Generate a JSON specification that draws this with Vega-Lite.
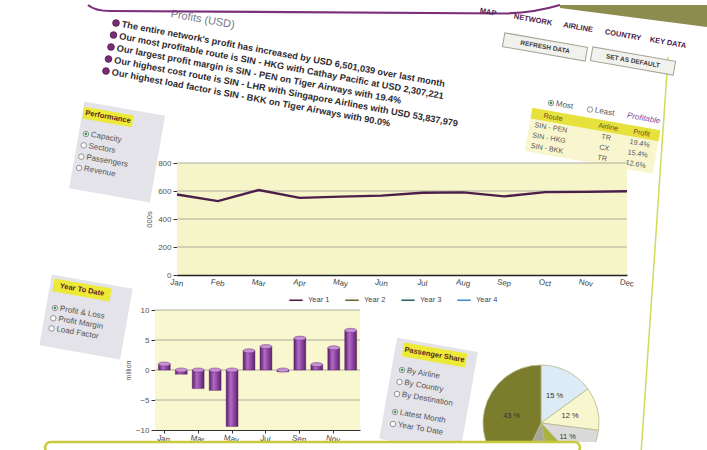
{
  "$schema": "https://vega.github.io/schema/vega-lite/v6.json",
  "padding": 0,
  "background": "#ffffff",
  "bounds": "flush",
  "spacing": 0,
  "resolve": {"scale": {"color": "independent"}, "legend": {"color": "independent"}},
  "config": {
    "view": {"stroke": null},
    "font": "Liberation Sans",
    "text": {"font": "Liberation Sans"},
    "axis": {"labelFont": "Liberation Sans", "titleFont": "Liberation Sans"},
    "legend": {"labelFont": "Liberation Sans"}
  },
  "datasets": {
    "capacity": [
      {"month": "Jan", "series": "Year 1", "value": 575},
      {"month": "Feb", "series": "Year 1", "value": 528},
      {"month": "Mar", "series": "Year 1", "value": 607},
      {"month": "Apr", "series": "Year 1", "value": 551},
      {"month": "May", "series": "Year 1", "value": 560},
      {"month": "Jun", "series": "Year 1", "value": 567},
      {"month": "Jul", "series": "Year 1", "value": 588},
      {"month": "Aug", "series": "Year 1", "value": 590},
      {"month": "Sep", "series": "Year 1", "value": 562},
      {"month": "Oct", "series": "Year 1", "value": 592},
      {"month": "Nov", "series": "Year 1", "value": 594},
      {"month": "Dec", "series": "Year 1", "value": 598}
    ],
    "ytd": [
      {"month": "Jan", "value": 1.0},
      {"month": "Feb", "value": -0.7},
      {"month": "Mar", "value": -3.1},
      {"month": "Apr", "value": -3.4},
      {"month": "May", "value": -9.4},
      {"month": "Jun", "value": 3.2},
      {"month": "Jul", "value": 3.9},
      {"month": "Aug", "value": -0.3},
      {"month": "Sep", "value": 5.3},
      {"month": "Oct", "value": 0.9},
      {"month": "Nov", "value": 3.7},
      {"month": "Dec", "value": 6.6}
    ],
    "share": [
      {"airline": "Airline A", "share": 15, "ord": 1, "label": "15 %"},
      {"airline": "Airline B", "share": 12, "ord": 2, "label": "12 %"},
      {"airline": "Airline C", "share": 11, "ord": 3, "label": "11 %"},
      {"airline": "Airline D", "share": 9, "ord": 4, "label": "9 %"},
      {"airline": "Airline E", "share": 10, "ord": 5, "label": "10 %"},
      {"airline": "Airline F", "share": 43, "ord": 6, "label": "43 %"}
    ],
    "bullets": [
      {"i": -1, "kind": "title", "text": "Profits (USD)"},
      {"i": 0, "kind": "bullet", "text": "The entire network's profit has increased by USD 6,501,039 over last month"},
      {"i": 1, "kind": "bullet", "text": "Our most profitable route is SIN - HKG with Cathay Pacific at USD 2,307,221"},
      {"i": 2, "kind": "bullet", "text": "Our largest profit margin is SIN - PEN on Tiger Airways with 19.4%"},
      {"i": 3, "kind": "bullet", "text": "Our highest cost route is SIN - LHR with Singapore Airlines with USD 53,837,979"},
      {"i": 4, "kind": "bullet", "text": "Our highest load factor is SIN - BKK on Tiger Airways with 90.0%"}
    ],
    "nav": [
      {"i": -1, "label": "MAP"},
      {"i": 0, "label": "NETWORK"},
      {"i": 1, "label": "AIRLINE"},
      {"i": 2, "label": "COUNTRY"},
      {"i": 3, "label": "KEY DATA"}
    ],
    "buttons": [
      {"i": 0, "label": "REFRESH DATA"},
      {"i": 1, "label": "SET AS DEFAULT"}
    ],
    "radio": [
      {"i": 0, "label": "Most", "kind": "opt", "sel": 1},
      {"i": 1, "label": "Least", "kind": "opt", "sel": 0},
      {"i": 2, "label": "Profitable", "kind": "note", "sel": 0}
    ],
    "table": [
      {"r": 0, "route": "Route", "airline": "Airline", "profit": "Profit"},
      {"r": 1, "route": "SIN - PEN", "airline": "TR", "profit": "19.4%"},
      {"r": 2, "route": "SIN - HKG", "airline": "CX", "profit": "15.4%"},
      {"r": 3, "route": "SIN - BKK", "airline": "TR", "profit": "12.6%"}
    ],
    "perf": [
      {"i": 0, "label": "Performance", "kind": "title", "sel": 0},
      {"i": 1, "label": "Capacity", "kind": "opt", "sel": 1},
      {"i": 2, "label": "Sectors", "kind": "opt", "sel": 0},
      {"i": 3, "label": "Passengers", "kind": "opt", "sel": 0},
      {"i": 4, "label": "Revenue", "kind": "opt", "sel": 0}
    ],
    "ytdpanel": [
      {"i": 0, "label": "Year To Date", "kind": "title", "sel": 0},
      {"i": 1, "label": "Profit & Loss", "kind": "opt", "sel": 1},
      {"i": 2, "label": "Profit Margin", "kind": "opt", "sel": 0},
      {"i": 3, "label": "Load Factor", "kind": "opt", "sel": 0}
    ],
    "paxpanel": [
      {"i": 0, "label": "Passenger Share", "kind": "title", "grp": 1, "sel": 0},
      {"i": 1, "label": "By Airline", "kind": "opt", "grp": 1, "sel": 1},
      {"i": 2, "label": "By Country", "kind": "opt", "grp": 1, "sel": 0},
      {"i": 3, "label": "By Destination", "kind": "opt", "grp": 1, "sel": 0},
      {"i": 4, "label": "Latest Month", "kind": "opt", "grp": 2, "sel": 1},
      {"i": 5, "label": "Year To Date", "kind": "opt", "grp": 2, "sel": 0}
    ]
  },
  "vconcat": [
    {
      "width": 707,
      "height": 158,
      "resolve": {"scale": {"x": "independent", "y": "independent"}},
      "layer": [
        {
          "data": {"name": "bullets"},
          "encoding": {
            "x": {"field": "i", "type": "quantitative", "scale": {"domain": [0, 4], "range": [116, 106], "zero": false, "nice": false}, "axis": null},
            "y": {"field": "i", "type": "quantitative", "scale": {"domain": [0, 4], "range": [18, 66], "zero": false, "nice": false}, "axis": null}
          },
          "layer": [
            {"transform": [{"filter": "datum.kind=='title'"}], "mark": {"type": "text", "align": "left", "baseline": "middle", "dx": 52, "dy": -6, "angle": 10, "fontSize": 11, "color": "#77778a"}, "encoding": {"text": {"field": "text"}}},
            {"transform": [{"filter": "datum.kind=='bullet'"}], "mark": {"type": "point", "shape": "circle", "filled": true, "size": 45, "fill": "#7b2c74", "stroke": "#4d1848", "strokeWidth": 0.8, "opacity": 1}},
            {"transform": [{"filter": "datum.kind=='bullet'"}], "mark": {"type": "text", "align": "left", "baseline": "middle", "dx": 6, "angle": 10.5, "fontSize": 9.2, "fontWeight": "bold", "color": "#2f2b30"}, "encoding": {"text": {"field": "text"}}}
          ]
        },
        {
          "data": {"name": "nav"},
          "encoding": {
            "x": {"field": "i", "type": "quantitative", "scale": {"domain": [0, 3], "range": [533, 668], "zero": false, "nice": false}, "axis": null},
            "y": {"field": "i", "type": "quantitative", "scale": {"domain": [0, 3], "range": [15, 38], "zero": false, "nice": false}, "axis": null}
          },
          "layer": [
            {"transform": [{"filter": "datum.i==0"}], "mark": {"type": "point", "shape": "M0.54,-0.3L3.48,-0.3L3.48,0.14L0.54,-0.24Z", "size": 10000, "filled": true, "fill": "#8d8b4e", "strokeWidth": 0, "opacity": 1}},
            {"transform": [{"filter": "datum.i==0"}], "mark": {"type": "point", "shape": "M-8.9,-0.3Q-8.76,-0.18 -8.46,-0.18L-0.56,-0.13Q0,-0.14 0.54,-0.3", "size": 10000, "filled": false, "fill": "transparent", "stroke": "#7b2f7b", "strokeWidth": 2.2, "opacity": 1}},
            {"transform": [{"filter": "datum.i==0"}], "mark": {"type": "point", "shape": "M2.7,0.74L2.16,8.68", "size": 10000, "filled": false, "fill": "transparent", "stroke": "#d3da5a", "strokeWidth": 1.5, "opacity": 1}},
            {"mark": {"type": "text", "align": "center", "baseline": "middle", "angle": 10, "fontSize": 7.5, "fontWeight": "bold", "color": "#4b1a48"}, "encoding": {"text": {"field": "label"}}}
          ]
        },
        {
          "data": {"name": "buttons"},
          "encoding": {
            "x": {"field": "i", "type": "quantitative", "scale": {"domain": [0, 1], "range": [545, 633], "zero": false, "nice": false}, "axis": null},
            "y": {"field": "i", "type": "quantitative", "scale": {"domain": [0, 1], "range": [42, 56], "zero": false, "nice": false}, "axis": null}
          },
          "layer": [
            {"mark": {"type": "point", "shape": "M-0.84,-0.14L0.84,-0.14L0.84,0.14L-0.84,0.14Z", "size": 10000, "filled": true, "fill": "#f1f1ed", "stroke": "#a3a394", "strokeWidth": 1, "angle": 10, "opacity": 1}},
            {"mark": {"type": "text", "align": "center", "baseline": "middle", "angle": 10, "fontSize": 6.5, "fontWeight": "bold", "color": "#3a3a3a"}, "encoding": {"text": {"field": "label"}}}
          ]
        },
        {
          "data": {"name": "radio"},
          "encoding": {
            "x": {"field": "i", "type": "quantitative", "scale": {"domain": [0, 1], "range": [551, 590], "zero": false, "nice": false}, "axis": null},
            "y": {"field": "i", "type": "quantitative", "scale": {"domain": [0, 1], "range": [98, 104.5], "zero": false, "nice": false}, "axis": null}
          },
          "layer": [
            {"transform": [{"filter": "datum.kind=='opt'"}], "mark": {"type": "point", "shape": "circle", "size": 30, "filled": true, "fill": "#fbfbfb", "stroke": "#7c7c7c", "strokeWidth": 0.8, "opacity": 1}},
            {"transform": [{"filter": "datum.sel==1"}], "mark": {"type": "point", "shape": "circle", "size": 8, "filled": true, "fill": "#3f9a5c", "strokeWidth": 0, "opacity": 1}},
            {"transform": [{"filter": "datum.kind=='opt'"}], "mark": {"type": "text", "align": "left", "baseline": "middle", "dx": 5, "angle": 10, "fontSize": 8, "color": "#555555"}, "encoding": {"text": {"field": "label"}}},
            {"transform": [{"filter": "datum.kind=='note'"}], "mark": {"type": "text", "align": "left", "baseline": "middle", "dx": -2, "angle": 10, "fontSize": 8, "fontStyle": "italic", "color": "#8a4a96"}, "encoding": {"text": {"field": "label"}}}
          ]
        },
        {
          "data": {"name": "table"},
          "encoding": {
            "x": {"field": "r", "type": "quantitative", "scale": {"domain": [0, 3], "range": [553, 547], "zero": false, "nice": false}, "axis": null},
            "y": {"field": "r", "type": "quantitative", "scale": {"domain": [0, 3], "range": [112.5, 143.7], "zero": false, "nice": false}, "axis": null},
            "color": {"condition": {"test": "datum.r==0", "value": "#6b4f22"}, "value": "#5a5a5a"}
          },
          "layer": [
            {"transform": [{"filter": "datum.r==0"}], "mark": {"type": "point", "shape": "M-0.44,0.1L2.16,0.1L2.16,0.76L-0.44,0.76Z", "size": 10000, "filled": true, "fill": "#f9f6cf", "strokeWidth": 0, "angle": 10, "opacity": 1}},
            {"transform": [{"filter": "datum.r==0"}], "mark": {"type": "point", "shape": "M-0.44,-0.12L2.16,-0.12L2.16,0.1L-0.44,0.1Z", "size": 10000, "filled": true, "fill": "#e7e13c", "strokeWidth": 0, "angle": 10, "opacity": 1}},
            {"mark": {"type": "text", "align": "center", "baseline": "middle", "angle": 10, "fontSize": 7.2}, "encoding": {"text": {"field": "route"}}},
            {"mark": {"type": "text", "align": "center", "baseline": "middle", "angle": 10, "dx": 56, "fontSize": 7.2}, "encoding": {"text": {"field": "airline"}}},
            {"mark": {"type": "text", "align": "center", "baseline": "middle", "angle": 10, "dx": 90, "fontSize": 7.2}, "encoding": {"text": {"field": "profit"}}}
          ]
        },
        {
          "data": {"name": "perf"},
          "encoding": {
            "x": {"field": "i", "type": "quantitative", "scale": {"domain": [1, 4], "range": [86, 79], "zero": false, "nice": false}, "axis": null},
            "y": {"field": "i", "type": "quantitative", "scale": {"domain": [1, 4], "range": [129, 163], "zero": false, "nice": false}, "axis": null}
          },
          "layer": [
            {"transform": [{"filter": "datum.kind=='title'"}], "mark": {"type": "point", "shape": "M-0.152,-0.402L1.488,-0.402L1.488,1.358L-0.152,1.358Z", "size": 10000, "filled": true, "fill": "#e3e3e9", "strokeWidth": 0, "angle": 10, "opacity": 1}},
            {"transform": [{"filter": "datum.kind=='title'"}], "mark": {"type": "point", "shape": "M-0.132,-0.3L0.868,-0.3L0.868,-0.06L-0.132,-0.06Z", "size": 10000, "filled": true, "fill": "#ecea36", "strokeWidth": 0, "angle": 10, "opacity": 1}},
            {"transform": [{"filter": "datum.kind=='title'"}], "mark": {"type": "text", "align": "center", "baseline": "middle", "dx": 18.4, "dy": -9, "angle": 10, "fontSize": 7.5, "fontWeight": "bold", "color": "#5b1f22"}, "encoding": {"text": {"field": "label"}}},
            {"transform": [{"filter": "datum.kind=='opt'"}], "mark": {"type": "point", "shape": "circle", "size": 30, "filled": true, "fill": "#fbfbfb", "stroke": "#7c7c7c", "strokeWidth": 0.8, "opacity": 1}},
            {"transform": [{"filter": "datum.sel==1"}], "mark": {"type": "point", "shape": "circle", "size": 8, "filled": true, "fill": "#3f9a5c", "strokeWidth": 0, "opacity": 1}},
            {"transform": [{"filter": "datum.kind=='opt'"}], "mark": {"type": "text", "align": "left", "baseline": "middle", "dx": 5, "angle": 10, "fontSize": 8, "color": "#555555"}, "encoding": {"text": {"field": "label"}}}
          ]
        },
        {
          "data": {"name": "ytdpanel"},
          "encoding": {
            "x": {"field": "i", "type": "quantitative", "scale": {"domain": [1, 3], "range": [55, 51.6], "zero": false, "nice": false}, "axis": null},
            "y": {"field": "i", "type": "quantitative", "scale": {"domain": [1, 3], "range": [303, 323.4], "zero": false, "nice": false}, "axis": null}
          },
          "layer": [
            {"transform": [{"filter": "datum.kind=='title'"}], "mark": {"type": "point", "shape": "M-0.176,-0.444L1.464,-0.444L1.464,0.996L-0.176,0.996Z", "size": 10000, "filled": true, "fill": "#e3e3e9", "strokeWidth": 0, "angle": 10, "opacity": 1}},
            {"transform": [{"filter": "datum.kind=='title'"}], "mark": {"type": "point", "shape": "M-0.108,-0.372L1.052,-0.372L1.052,-0.112L-0.108,-0.112Z", "size": 10000, "filled": true, "fill": "#ecea36", "strokeWidth": 0, "angle": 10, "opacity": 1}},
            {"transform": [{"filter": "datum.kind=='title'"}], "mark": {"type": "text", "align": "center", "baseline": "middle", "dx": 23.6, "dy": -12.1, "angle": 10, "fontSize": 7.5, "fontWeight": "bold", "color": "#5b1f22"}, "encoding": {"text": {"field": "label"}}},
            {"transform": [{"filter": "datum.kind=='opt'"}], "mark": {"type": "point", "shape": "circle", "size": 30, "filled": true, "fill": "#fbfbfb", "stroke": "#7c7c7c", "strokeWidth": 0.8, "opacity": 1}},
            {"transform": [{"filter": "datum.sel==1"}], "mark": {"type": "point", "shape": "circle", "size": 8, "filled": true, "fill": "#3f9a5c", "strokeWidth": 0, "opacity": 1}},
            {"transform": [{"filter": "datum.kind=='opt'"}], "mark": {"type": "text", "align": "left", "baseline": "middle", "dx": 5, "angle": 10, "fontSize": 8, "color": "#555555"}, "encoding": {"text": {"field": "label"}}}
          ]
        },
        {
          "data": {"name": "paxpanel"},
          "transform": [{"filter": "datum.grp==1"}],
          "encoding": {
            "x": {"field": "i", "type": "quantitative", "scale": {"domain": [1, 3], "range": [402, 397], "zero": false, "nice": false}, "axis": null},
            "y": {"field": "i", "type": "quantitative", "scale": {"domain": [1, 3], "range": [365, 389], "zero": false, "nice": false}, "axis": null}
          },
          "layer": [
            {"transform": [{"filter": "datum.kind=='title'"}], "mark": {"type": "point", "shape": "M-0.216,-0.372L1.424,-0.372L1.424,1.68L-0.216,1.68Z", "size": 10000, "filled": true, "fill": "#e3e3e9", "strokeWidth": 0, "angle": 10, "opacity": 1}},
            {"transform": [{"filter": "datum.kind=='title'"}], "mark": {"type": "point", "shape": "M-0.06,-0.304L1.22,-0.304L1.22,-0.024L-0.06,-0.024Z", "size": 10000, "filled": true, "fill": "#ecea36", "strokeWidth": 0, "angle": 10, "opacity": 1}},
            {"transform": [{"filter": "datum.kind=='title'"}], "mark": {"type": "text", "align": "center", "baseline": "middle", "dx": 29, "dy": -8.2, "angle": 10, "fontSize": 7.5, "fontWeight": "bold", "color": "#5b1f22"}, "encoding": {"text": {"field": "label"}}},
            {"transform": [{"filter": "datum.kind=='opt'"}], "mark": {"type": "point", "shape": "circle", "size": 30, "filled": true, "fill": "#fbfbfb", "stroke": "#7c7c7c", "strokeWidth": 0.8, "opacity": 1}},
            {"transform": [{"filter": "datum.sel==1"}], "mark": {"type": "point", "shape": "circle", "size": 8, "filled": true, "fill": "#3f9a5c", "strokeWidth": 0, "opacity": 1}},
            {"transform": [{"filter": "datum.kind=='opt'"}], "mark": {"type": "text", "align": "left", "baseline": "middle", "dx": 5, "angle": 10, "fontSize": 8, "color": "#555555"}, "encoding": {"text": {"field": "label"}}}
          ]
        },
        {
          "data": {"name": "paxpanel"},
          "transform": [{"filter": "datum.grp==2"}],
          "encoding": {
            "x": {"field": "i", "type": "quantitative", "scale": {"domain": [4, 5], "range": [395, 393], "zero": false, "nice": false}, "axis": null},
            "y": {"field": "i", "type": "quantitative", "scale": {"domain": [4, 5], "range": [407, 419], "zero": false, "nice": false}, "axis": null}
          },
          "layer": [
            {"mark": {"type": "point", "shape": "circle", "size": 30, "filled": true, "fill": "#fbfbfb", "stroke": "#7c7c7c", "strokeWidth": 0.8, "opacity": 1}},
            {"transform": [{"filter": "datum.sel==1"}], "mark": {"type": "point", "shape": "circle", "size": 8, "filled": true, "fill": "#3f9a5c", "strokeWidth": 0, "opacity": 1}},
            {"mark": {"type": "text", "align": "left", "baseline": "middle", "dx": 5, "angle": 10, "fontSize": 8, "color": "#555555"}, "encoding": {"text": {"field": "label"}}}
          ]
        }
      ]
    },
    {
      "width": 627,
      "height": 147,
      "layer": [
        {
          "data": {"values": [{"k": 0}]},
          "mark": {"type": "rect", "fill": "#f6f4c9"},
          "encoding": {
            "x": {"datum": "Jan", "type": "ordinal", "title": null, "axis": {"orient": "bottom", "offset": -35, "labelAngle": 10, "labelAlign": "center", "labelBaseline": "top", "labelFontSize": 8, "labelColor": "#444444", "labelPadding": 4, "domainColor": "#222222", "domainWidth": 1.6, "tickSize": 0, "grid": false}},
            "x2": {"datum": "Dec"},
            "y": {"datum": 0, "type": "quantitative", "title": "000s", "axis": {"orient": "left", "offset": -177, "values": [0, 200, 400, 600, 800], "grid": false, "titleFontSize": 7.5, "titleFontWeight": "normal", "titleColor": "#555555", "titlePadding": 4, "labelFontSize": 8, "labelColor": "#555555", "labelPadding": 2, "tickSize": 4, "tickColor": "#333333", "domainColor": "#333333"}},
            "y2": {"datum": 800}
          }
        },
        {
          "data": {"values": [{"v": 200}, {"v": 400}, {"v": 600}, {"v": 800}]},
          "mark": {"type": "rule", "color": "#8c8c86", "strokeWidth": 0.7},
          "encoding": {
            "x": {"datum": "Jan", "type": "ordinal", "title": null, "axis": {"orient": "bottom", "offset": -35, "labelAngle": 10, "labelAlign": "center", "labelBaseline": "top", "labelFontSize": 8, "labelColor": "#444444", "labelPadding": 4, "domainColor": "#222222", "domainWidth": 1.6, "tickSize": 0, "grid": false}},
            "x2": {"datum": "Dec"},
            "y": {"field": "v", "type": "quantitative", "title": "000s", "axis": {"orient": "left", "offset": -177, "values": [0, 200, 400, 600, 800], "grid": false, "titleFontSize": 7.5, "titleFontWeight": "normal", "titleColor": "#555555", "titlePadding": 4, "labelFontSize": 8, "labelColor": "#555555", "labelPadding": 2, "tickSize": 4, "tickColor": "#333333", "domainColor": "#333333"}}
          }
        },
        {
          "data": {"name": "capacity"},
          "mark": {"type": "line", "strokeWidth": 2.4},
          "encoding": {
            "x": {
              "field": "month", "type": "ordinal", "title": null,
              "scale": {"type": "point", "domain": ["Jan", "Feb", "Mar", "Apr", "May", "Jun", "Jul", "Aug", "Sep", "Oct", "Nov", "Dec"], "range": [177, 627], "padding": 0},
              "axis": {"orient": "bottom", "offset": -35, "labelAngle": 10, "labelAlign": "center", "labelBaseline": "top", "labelFontSize": 8, "labelColor": "#444444", "labelPadding": 4, "domainColor": "#222222", "domainWidth": 1.6, "tickSize": 0, "grid": false}
            },
            "y": {
              "field": "value", "type": "quantitative", "title": "000s",
              "scale": {"domain": [0, 800], "range": [112, 0], "nice": false, "zero": false},
              "axis": {"orient": "left", "offset": -177, "values": [0, 200, 400, 600, 800], "grid": false, "titleFontSize": 7.5, "titleFontWeight": "normal", "titleColor": "#555555", "titlePadding": 4, "labelFontSize": 8, "labelColor": "#555555", "labelPadding": 2, "tickSize": 4, "tickColor": "#333333", "domainColor": "#333333"}
            },
            "color": {
              "field": "series", "type": "nominal",
              "scale": {"domain": ["Year 1", "Year 2", "Year 3", "Year 4"], "range": ["#4c1e4a", "#6f6a2a", "#2f6464", "#4a8cc8"]},
              "legend": {"orient": "none", "legendX": 288, "legendY": 129, "direction": "horizontal", "title": null, "symbolType": "stroke", "symbolStrokeWidth": 1.6, "symbolSize": 180, "labelFontSize": 7.5, "labelColor": "#444444", "columnPadding": 12, "padding": 0}
            }
          }
        }
      ]
    },
    {
      "width": 707,
      "height": 132,
      "resolve": {"scale": {"x": "independent", "y": "independent", "color": "independent", "theta": "independent"}, "axis": {"x": "independent", "y": "independent"}},
      "layer": [
        {
          "layer": [
            {
              "data": {"values": [{"k": 0}]},
              "mark": {"type": "rect", "fill": "#f8f7cf"},
              "encoding": {
                "x": {"datum": 0, "type": "quantitative", "scale": {"domain": [0, 1], "range": [155, 360], "zero": false, "nice": false}, "axis": null},
                "x2": {"datum": 1},
                "y": {"datum": -10, "type": "quantitative", "scale": {"domain": [-10, 10], "range": [120, 0], "nice": false, "zero": false}, "axis": null},
                "y2": {"datum": 10}
              }
            },
            {
              "data": {"values": [{"v": -5}, {"v": 0}, {"v": 5}, {"v": 10}]},
              "mark": {"type": "rule", "color": "#8c8c86", "strokeWidth": 0.7},
              "encoding": {
                "x": {"datum": 0, "type": "quantitative", "axis": null},
                "x2": {"datum": 1},
                "y": {"field": "v", "type": "quantitative", "axis": null}
              }
            }
          ]
        },
        {
          "data": {"name": "ytd"},
          "encoding": {
            "x": {
              "field": "month", "type": "ordinal",
              "scale": {"domain": ["Jan", "Feb", "Mar", "Apr", "May", "Jun", "Jul", "Aug", "Sep", "Oct", "Nov", "Dec"], "range": [155, 360], "paddingInner": 0.3, "paddingOuter": 0.2},
              "axis": {"title": null, "orient": "bottom", "offset": -12, "values": ["Jan", "Mar", "May", "Jul", "Sep", "Nov"], "labelAngle": 10, "labelAlign": "center", "labelBaseline": "top", "labelFontSize": 8, "labelColor": "#444444", "domainColor": "#333333", "tickSize": 3, "tickColor": "#333333"}
            },
            "y": {
              "field": "value", "type": "quantitative", "title": "million",
              "scale": {"domain": [-10, 10], "range": [120, 0], "nice": false, "zero": false},
              "axis": {"orient": "left", "offset": -155, "values": [-10, -5, 0, 5, 10], "grid": false, "titleFontSize": 7, "titleFontWeight": "normal", "titleColor": "#555555", "titlePadding": 4, "labelFontSize": 8, "labelColor": "#555555", "tickSize": 4, "tickColor": "#333333", "domainColor": "#333333"}
            }
          },
          "layer": [
            {"mark": {"type": "bar", "color": {"gradient": "linear", "x1": 0, "x2": 1, "y1": 0, "y2": 0, "stops": [{"offset": 0, "color": "#5b1d6b"}, {"offset": 0.38, "color": "#b36ac6"}, {"offset": 1, "color": "#5e2170"}]}, "stroke": "#4a1558", "strokeWidth": 0.4}, "encoding": {"y2": {"datum": 0}}},
            {"transform": [{"filter": "datum.value>=0"}], "mark": {"type": "point", "shape": "M-1,0A1,0.35 0 1,1 1,0A1,0.35 0 1,1 -1,0Z", "size": 141, "filled": true, "fill": "#c690d4", "stroke": "#5b1d6b", "strokeWidth": 0.4, "opacity": 1}},
            {"transform": [{"filter": "datum.value<0"}], "mark": {"type": "point", "shape": "M-1,0A1,0.35 0 1,1 1,0A1,0.35 0 1,1 -1,0Z", "size": 141, "filled": true, "fill": "#c690d4", "stroke": "#5b1d6b", "strokeWidth": 0.4, "opacity": 1}, "encoding": {"y": {"datum": 0, "type": "quantitative", "title": "million"}}}
          ]
        },
        {
          "data": {"name": "share"},
          "layer": [
            {
              "mark": {"type": "arc", "outerRadius": 58, "stroke": "#b9b98a", "strokeWidth": 0.8, "clip": true, "x": 541, "y": 113},
              "encoding": {
                "theta": {"field": "share", "type": "quantitative", "stack": true},
                "order": {"field": "ord"},
                "color": {"field": "airline", "type": "nominal", "scale": {"domain": ["Airline A", "Airline B", "Airline C", "Airline D", "Airline E", "Airline F"], "range": ["#dcebf6", "#f7f6cf", "#dadada", "#a9b23a", "#a8a698", "#7b7c2c"]}, "legend": null}
              }
            },
            {
              "mark": {"type": "text", "radius": 30, "fontSize": 7.5, "color": "#333333", "clip": true, "x": 541, "y": 113},
              "encoding": {
                "theta": {"field": "share", "type": "quantitative", "stack": true},
                "order": {"field": "ord"},
                "text": {"condition": {"test": "datum.ord==4 || datum.ord==5", "value": ""}, "field": "label"}
              }
            }
          ]
        },
        {
          "data": {"values": [{"k": 0}]},
          "encoding": {
            "x": {"datum": 0, "type": "quantitative", "scale": {"domain": [0, 1], "range": [45, 580], "zero": false, "nice": false}, "axis": null},
            "y": {"datum": 0, "type": "quantitative", "scale": {"domain": [0, 1], "range": [132, 143.5], "zero": false, "nice": false}, "axis": null}
          },
          "layer": [
            {"mark": {"type": "rect", "fill": "#ffffff", "stroke": "#c9c940", "strokeWidth": 2.5, "cornerRadius": 7}, "encoding": {"x2": {"datum": 1}, "y2": {"datum": 1}}},
            {"mark": {"type": "rect", "fill": "#ffffff", "strokeWidth": 0}, "encoding": {"x": {"datum": -0.004, "type": "quantitative"}, "x2": {"datum": 1.004}, "y": {"datum": 0.75, "type": "quantitative"}, "y2": {"datum": 1.13}}}
          ]
        }
      ]
    }
  ]
}
